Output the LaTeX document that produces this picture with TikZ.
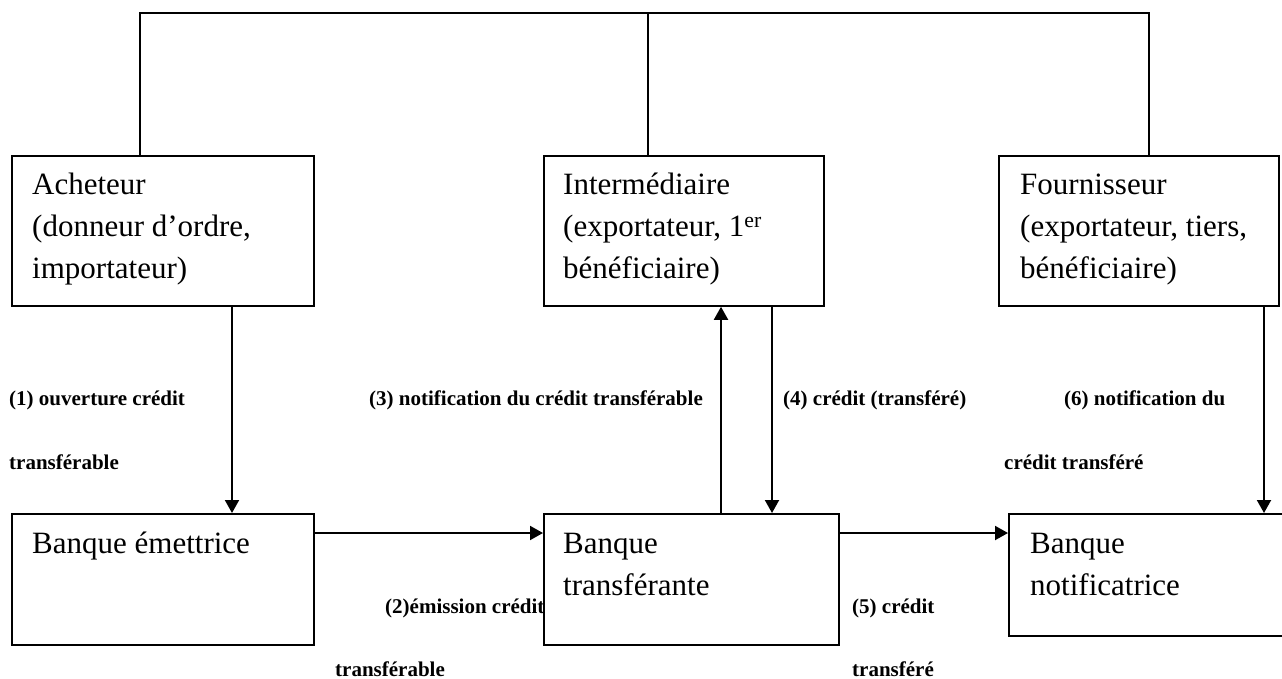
\documentclass[tikz,border=0pt]{standalone}
\usepackage{fontspec}
\setmainfont{Liberation Serif}
\usetikzlibrary{arrows.meta}
\newcommand\boxlines[1]{\parbox[t]{290pt}{\raggedright #1}}
\begin{document}
\begin{tikzpicture}[x=1pt,y=-1pt,
  box/.style={draw, line width=1.8pt, fill=white, inner sep=0pt, anchor=north west},
  boxtext/.style={anchor=base west, inner sep=0pt, font=\fontsize{31}{42}\selectfont},
  flowlabel/.style={anchor=base west, inner sep=0pt, font=\fontsize{21}{25}\selectfont\bfseries},
  link/.style={line width=1.5pt},
  arr/.style={line width=2pt, -{Triangle[length=13pt,width=14pt]}}]
\useasboundingbox (0,0) rectangle (1282,679);

% flow labels (drawn first so that boxes cover any overlap)
\node[flowlabel] (l1a) at (9,405)   {(1) ouverture crédit};
\node[flowlabel] (l1b) at (9,469)   {transférable};
\node[flowlabel] (l2a) at (385,613) {(2)émission crédit};
\node[flowlabel] (l2b) at (335,676) {transférable};
\node[flowlabel] (l3)  at (369,405) {(3) notification du crédit transférable};
\node[flowlabel] (l4)  at (783,405) {(4) crédit (transféré)};
\node[flowlabel] (l5a) at (852,613) {(5) crédit};
\node[flowlabel] (l5b) at (852,676) {transféré};
\node[flowlabel] (l6a) at (1064,405) {(6) notification du};
\node[flowlabel] (l6b) at (1004,469) {crédit transféré};

% parties
\node[box, minimum width=302pt, minimum height=150pt] (ach)   at (11,155)  {};
\node[box, minimum width=280pt, minimum height=150pt] (inter) at (543,155) {};
\node[box, minimum width=280pt, minimum height=150pt] (fou)   at (998,155) {};
% banks
\node[box, minimum width=302pt, minimum height=131pt] (em)    at (11,513)  {};
\node[box, minimum width=295pt, minimum height=131pt] (tra)   at (543,513) {};
\node[box, minimum width=285pt, minimum height=122pt] (notif) at (1008,513) {};

\node[boxtext] (achT)   at (32,195)   {\boxlines{Acheteur\\(donneur d’ordre,\\importateur)}};
\node[boxtext] (interT) at (563,195)  {\boxlines{Intermédiaire\\(exportateur, 1\textsuperscript{er}\\bénéficiaire)}};
\node[boxtext] (fouT)   at (1020,195) {\boxlines{Fournisseur\\(exportateur, tiers,\\bénéficiaire)}};
\node[boxtext] (emT)    at (32,553)   {\boxlines{Banque émettrice}};
\node[boxtext] (traT)   at (563,553)  {\boxlines{Banque\\transférante}};
\node[boxtext] (notifT) at (1030,553) {\boxlines{Banque\\notificatrice}};

% common link joining the three parties
\coordinate (tl) at (140,13);
\coordinate (tm) at (648,13);
\coordinate (tr) at (1149,13);
\draw[link] (ach.north -| tl) -- (tl) -- (tr) -- (fou.north -| tr);
\draw[link] (tm) -- (inter.north -| tm);

% flows
\draw[arr] (ach.south -| 232,0) -- (em.north -| 232,0);
\draw[arr] (em.east |- 0,533) -- (tra.west |- 0,533);
\draw[arr] (tra.north -| 721,0) -- (inter.south -| 721,0);
\draw[arr] (inter.south -| 772,0) -- (tra.north -| 772,0);
\draw[arr] (tra.east |- 0,533) -- (notif.west |- 0,533);
\draw[arr] (fou.south -| 1264,0) -- (notif.north -| 1264,0);
\end{tikzpicture}
\end{document}
